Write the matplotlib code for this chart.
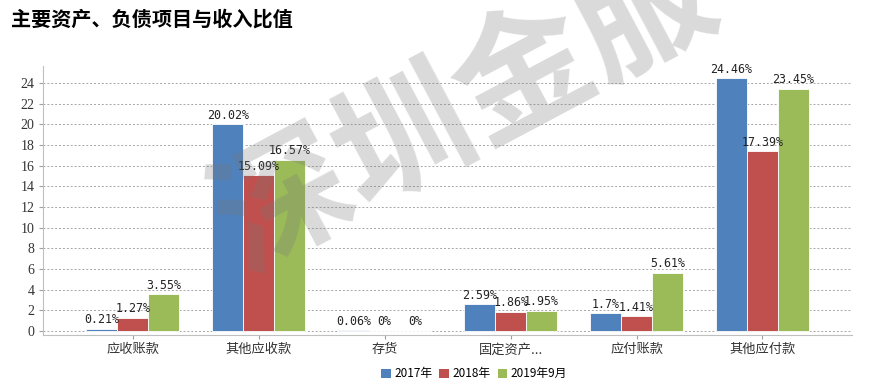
import numpy as np
import matplotlib.pyplot as plt
from matplotlib.patches import Patch

plt.rcParams['font.family'] = ['Noto Sans CJK SC', 'DejaVu Sans']

# data
categories = ['应收账款', '其他应收款', '存货', '固定资产...', '应付账款', '其他应付款']
series = ['2017年', '2018年', '2019年9月']
v2017 = [0.21, 20.02, 0.06, 2.59, 1.70, 24.46]
v2018 = [1.27, 15.09, 0.00, 1.86, 1.41, 17.39]
v2019 = [3.55, 16.57, 0.00, 1.95, 5.61, 23.45]
labels2017 = ['0.21%', '20.02%', '0.06%', '2.59%', '1.7%', '24.46%']
labels2018 = ['1.27%', '15.09%', '0%', '1.86%', '1.41%', '17.39%']
labels2019 = ['3.55%', '16.57%', '0%', '1.95%', '5.61%', '23.45%']
colors = ['#4F81BD', '#C0504D', '#9BBB59']

fig = plt.figure(figsize=(8.86, 3.89), dpi=100)
ax = fig.add_axes([0.0485, 0.139, 0.913, 0.691])

x = np.arange(len(categories))
w = 0.246
all_vals = [v2017, v2018, v2019]
all_labels = [labels2017, labels2018, labels2019]
for k, (vals, labs) in enumerate(zip(all_vals, all_labels)):
    pos = x + (k - 1) * w
    ax.bar(pos, vals, width=w, color=colors[k], edgecolor='white', linewidth=0.6, zorder=3)
    for px, v, lab in zip(pos, vals, labs):
        ax.text(px, v + 0.25, lab, ha='center', va='bottom', fontsize=8.4,
                family='DejaVu Sans Mono', color='#222222', zorder=5)

ax.set_xlim(-0.714, 5.71)
ax.set_ylim(-0.39, 25.65)
ax.set_yticks(np.arange(0, 25, 2))
ax.set_xticks(x)
ax.set_xticklabels(categories, fontsize=9.5, color='#333333')
for t in ax.get_yticklabels():
    t.set_family('Liberation Serif')
    t.set_fontsize(10)
    t.set_color('#333333')
ax.tick_params(axis='both', length=3, color='#a0a0a0', pad=3)
ax.grid(axis='y', color='#a6a6a6', linestyle=(0, (2, 2)), linewidth=0.7, zorder=0)
for s in ['top', 'right']:
    ax.spines[s].set_visible(False)
for s in ['left', 'bottom']:
    ax.spines[s].set_color('#bfbfbf')

handles = [Patch(facecolor=c, label=s) for c, s in zip(colors, series)]
fig.legend(handles=handles, loc='lower center', bbox_to_anchor=(0.535, -0.005), ncol=3,
           frameon=False, fontsize=8.5, handlelength=0.8, handleheight=0.8,
           handletextpad=0.3, columnspacing=0.6)

fig.text(0.012, 0.95, '主要资产、负债项目与收入比值', fontsize=14.5, fontweight='bold',
         ha='left', va='center')

# watermark
fig.text(0.525, 0.72, '深圳金服', fontsize=98, color='#777777', alpha=0.27,
         rotation=28, ha='center', va='center', fontweight='bold', zorder=10)

fig.savefig('out.png', dpi=100)
